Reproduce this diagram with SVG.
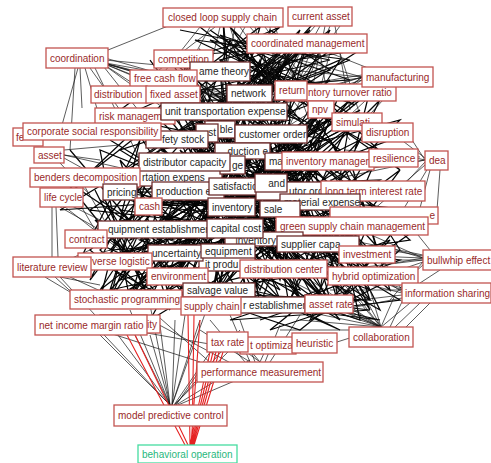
<svg xmlns="http://www.w3.org/2000/svg" width="491" height="463" viewBox="0 0 491 463">
<style>
.bg{fill:#fff}
.e{fill:none;stroke:#151515;stroke-width:0.7}
.m{fill:none;stroke:#050505;stroke-width:1.25}
.red{fill:none;stroke:#e52222;stroke-width:1.1}
.n rect{fill:#fff;stroke:#c25450;stroke-width:1.3}
.n text{font-family:"Liberation Sans",Arial,sans-serif;font-size:10px;fill:#992a2a}
.d rect{stroke:#6e2e2e}
.d text{fill:#262626}
.g rect{stroke:#45dca0}
.g text{fill:#27b77c}
.r text{text-anchor:end}
</style>
<rect class="bg" x="0" y="0" width="491" height="463"/>
<g id="connectors">
<path class="m" d="M223,17 L231,207 L210,306 L249,93 L310,243 L183,59 L283,269 L291,90 L177,276 L340,92 L175,253 L321,109 L235,228 L357,122 L150,229 L271,134 L226,248 L325,161 L219,290 L238,186 L329,304 L184,162 L373,276 L300,191 L126,299 L373,191 L112,261 L320,202 L148,206 L352,226 L185,191 L367,254 L179,139 L260,305 L220,71 L85,177 L173,94 L92,131 L163,78 L275,161 L307,43 L175,178 L320,16"/>
<path class="m" d="M307,43 L226,248 L163,78 L283,269 L128,116 L329,304 L220,71 L235,228 L183,59 L219,290 L249,93 L177,276 L291,90 L210,306 L321,109 L150,229 L357,122 L175,253 L271,134 L126,299 L325,161 L112,261 L300,191 L148,206 L373,191 L120,192 L352,226 L179,139 L367,254 L184,162 L373,276 L231,207 L340,92 L260,305 L224,111 L310,243 L173,94 L320,202 L185,191 L283,269 L238,186 L223,17"/>
<path class="m" d="M200,100 L260,150 L180,200 L300,180 L220,240 L330,220 L160,260 L280,240 L200,290 L340,270 L250,130 L150,180 L310,130 L210,160 L350,200 L240,270 L170,230 L290,110 L190,130 L320,250 L230,180 L140,240 L300,290 L260,200 L200,220 L340,150 L270,100 L160,140 L230,300 L310,170 L180,110 L250,240 L360,240 L210,190 L280,290 L150,210 L330,120 L240,150 L290,220 L190,250 L260,110"/>
<path class="m" d="M240,140 L300,175 L250,175 L310,150 L260,190 L295,140 L245,160 L305,185 L255,145 L290,195 L265,150 L320,175 L235,170 L300,160 L250,200 L330,190 L270,140 L280,205 L240,185 L315,165"/>
<path class="m" d="M100,200 L190,260 L120,280 L180,190 L110,240 L200,300 L140,190 L170,300 L95,260 L200,230 L130,300 L160,200 L100,290 L190,220 L120,210 L180,290 L140,230 L110,300 L200,250 L150,280"/>
<path class="m" d="M300,240 L400,300 L320,310 L390,240 L310,270 L380,310 L340,230 L360,320 L300,300 L400,260 L330,250 L370,300 L350,240 L310,320 L390,280"/>
<path class="m" d="M200,27 L280,90 L220,60 L300,40 L190,80 L260,27 L240,95 L290,60 L210,40 L270,80 L230,27 L300,95 L180,60 L250,40 L280,27 L200,95"/>
<path class="m" d="M150,60 L330,300 L260,40 L140,280 L350,100 L180,300 L300,30 L120,220 L380,250 L200,50 L250,310 L130,120 L370,170 L170,290 L290,50 L110,180 L340,280 L230,40 L160,240 L360,140 L210,300 L280,60 L140,160 L320,310 L190,70 L380,210 L240,290 L120,260 L330,80 L170,120 L300,280 L260,60 L150,300 L350,180 L220,100 L130,200 L370,290 L200,140 L310,40"/>
<path class="m" d="M260,80 L180,240 L330,140 L150,110 L300,260 L220,60 L360,220 L140,200 L280,300 L200,90 L340,170 L170,270 L250,50 L310,220 L160,150 L290,120 L230,280 L350,250 L190,180 L270,60 L130,240 L320,160 L210,270 L340,60 L180,130 L300,300 L240,170 L360,110 L150,260 L280,200 L200,310 L330,250 L170,80 L250,230 L120,150 L310,90"/>
<path class="m" d="M210,30 L340,120 L230,70 L360,50 L250,120 L300,35 L220,110 L330,70 L270,30 L240,130 L350,90 L200,60 L320,130 L280,45 L260,100 L345,40 L215,95 L300,120 L235,40 L355,105 L275,75 L205,125 L330,30 L290,110"/>
<path class="m" d="M290,130 L370,310 L300,200 L380,150 L320,290 L350,120 L290,250 L370,230 L310,140 L340,310 L300,170 L380,270 L330,200 L290,300 L360,170 L310,260 L350,300 L295,215 L375,190"/>
<path class="m" d="M70,150 L180,280 L90,240 L160,150 L60,210 L200,200 L100,300 L140,140 L80,260 L190,240 L120,160 L170,310 L65,180 L200,270 L110,290 L150,170 L90,210 L180,220 L130,300 L100,150 L200,190 L75,240"/>
<path class="m" d="M330,170 L410,240 L340,250 L400,170 L320,230 L390,290 L350,160 L380,260 L320,200 L410,210 L340,300 L400,250 L330,140 L370,220 L345,280 L415,230"/>
<path class="m" d="M220,300 L380,320 L250,290 L340,330 L280,300 L370,310 L230,320 L320,290 L270,330 L360,300 L240,310 L300,330 L350,290 L260,320"/>
<path class="m" d="M180,30 L330,60 L200,90 L350,80 L220,35 L300,100 L190,55 L340,45 L240,80 L310,30 L260,95 L350,60 L195,40 L290,85 L230,50 L330,95"/>
<path class="m" d="M95,190 L145,290 L100,250 L150,200 L90,280 L140,180 L110,300 L150,240 L95,220 L145,270 L105,200 L150,300 L90,250 L140,210"/>
<path class="m" d="M300,100 L400,170 L320,95 L390,140 L310,170 L380,100 L340,180 L400,120 L290,150 L370,90 L350,170 L310,110 L395,160"/>
<path class="m" d="M200,120 L300,300 L240,110 L190,280 L330,110 L260,290 L180,150 L340,290 L220,130 L280,280 L320,140 L200,270 L250,120 L350,260"/>
<path class="m" d="M110,140 L370,300 L130,290 L360,100 L160,100 L340,320 L120,190 L380,180 L150,320 L300,50 L110,250 L390,230 L170,60 L330,310 L140,170 L360,280"/>
<path class="m" d="M230,130 L180,290 L320,120 L250,300 L200,150 L360,200 L170,240 L310,280 L230,160 L330,240 L190,200 L290,310 L260,140 L150,250"/>
<path class="e" d="M100,62 L200,80 M100,62 L230,95 M100,62 L260,110 M100,62 L180,120 M100,62 L150,125 M100,62 L270,130 M100,62 L220,140 M100,62 L300,120 M100,62 L240,100 M100,62 L190,100 M105,58 L165,75 M105,60 L210,70 M108,50 L168,26 M80,68 L82,108 M85,68 L98,112 M90,68 L120,110 M78,68 L62,125 M75,68 L70,150 M95,68 L140,160"/>
<path class="e" d="M362,77 L300,60 M362,77 L290,70 M362,77 L280,100 M362,77 L260,110 M362,77 L300,130 M362,77 L320,108 M370,87 L335,118 M362,80 L250,150 M362,75 L270,90 M330,53 L368,68 M380,87 L350,115 M395,87 L360,125 M362,80 L230,120 M362,78 L210,95"/>
<path class="e" d="M425,160 L412,140 M425,160 L380,150 M425,160 L360,170 M425,160 L330,180 M425,162 L390,200 M425,165 L350,230 M428,168 L400,215 M430,170 L420,208 M440,170 L437,210 M425,158 L395,135 M420,157 L345,150"/>
<path class="e" d="M423,258 L360,230 M423,258 L380,245 M423,258 L395,263 M423,260 L340,270 M423,262 L370,280 M423,265 L400,285 M423,258 L350,255 M423,256 L330,240 M430,250 L410,225 M423,262 L390,300 M423,255 L300,230 M423,260 L320,260 M440,270 L420,283"/>
<path class="e" d="M402,293 L350,280 M402,292 L370,270 M402,290 L380,255 M402,295 L360,300 M402,298 L340,310 M420,303 L395,327 M430,303 L405,328 M410,303 L380,328 M402,290 L330,290 M402,288 L320,265 M402,290 L300,250"/>
<path class="e" d="M381,327 L300,300 M381,327 L320,290 M381,327 L340,280 M381,327 L350,270 M381,327 L360,300 M381,327 L300,320 M381,330 L280,330 M381,327 L330,305 M381,327 L310,280 M381,327 L370,290 M381,327 L395,295 M381,327 L250,300 M375,330 L337,342 M381,327 L290,290 M381,327 L270,270 M390,327 L410,285"/>
<path class="e" d="M260,362 L230,340 M260,362 L250,350 M260,362 L270,340 M255,362 L240,320 M250,362 L200,330 M265,362 L280,325 M250,362 L230,315 M270,362 L300,315 M245,362 L210,320"/>
<path class="e" d="M170,405 L100,335 M170,405 L118,335 M170,405 L135,335 M170,405 L150,335 M170,405 L160,325 M172,405 L175,320 M172,405 L185,315 M172,405 L200,320 M174,405 L215,345 M174,405 L230,350 M176,405 L250,360 M178,405 L265,368 M176,405 L200,370 M170,405 L130,310 M170,405 L150,305 M175,405 L240,330 M150,320 L240,368 M160,318 L230,380 M130,330 L215,345 M100,330 L200,362 M170,405 L90,320 M172,405 L210,300"/>
<path class="e" d="M52,267 L90,250 M60,277 L100,285 M70,277 L120,300 M55,277 L80,300 M80,260 L110,250 M85,265 L130,270 M52,207 L52,257 M56,207 L58,257 M60,207 L100,230 M65,207 L120,250 M70,205 L140,240 M60,277 L95,315 M45,277 L70,292"/>
<path class="e" d="M64,155 L100,160 M64,155 L130,170 M64,150 L120,145 M64,158 L140,200 M60,163 L90,195 M140,178 L200,170 M85,187 L110,230 M70,187 L95,230"/>
<path class="e" d="M200,27 L150,90 M210,27 L170,100 M220,27 L200,110 M230,27 L260,120 M240,27 L300,110 M250,27 L330,120 M260,27 L240,100 M270,27 L280,130 M215,27 L120,100 M235,27 L210,150 M245,27 L180,140 M255,27 L290,160 M265,27 L350,140 M275,27 L320,150 M320,26 L290,80 M325,26 L310,100 M330,26 L280,150 M315,26 L260,90 M335,26 L350,110 M340,26 L300,80 M300,53 L250,150 M310,53 L280,130 M320,53 L330,110 M290,53 L230,120 M330,53 L300,160 M280,53 L200,140 M340,53 L360,115"/>
<path class="red" d="M135,335 L188,445 M127,335 L185,445 M188,315 L190,445 M194,315 L192,445 M210,352 L190,445 M213,352 L191,445 M216,352 L192,445 M219,352 L193,445 M223,352 L194,445 M200,320 L191,445"/>
</g>
<g id="closed-loop-supply-chain" class="n"><rect x="163" y="8" width="120" height="19"/><text x="168" y="21">closed loop supply chain</text></g>
<g id="current-asset" class="n"><rect x="288" y="7" width="64" height="19"/><text x="292" y="20">current asset</text></g>
<g id="coordinated-management" class="n"><rect x="247" y="34" width="120" height="19"/><text x="251" y="47">coordinated management</text></g>
<g id="coordination" class="n"><rect x="46" y="48" width="62" height="20"/><text x="50" y="62">coordination</text></g>
<g id="competition" class="n"><rect x="154" y="50" width="59" height="18"/><text x="158" y="63">competition</text></g>
<g id="game-theory" class="n d"><rect x="190" y="62" width="60" height="19"/><text x="199" y="75">ame theory</text></g>
<g id="free-cash-flow" class="n"><rect x="130" y="70" width="67" height="17"/><text x="134" y="82">free cash flow</text></g>
<g id="inventory-turnover-ratio" class="n"><rect x="286" y="84" width="110" height="17"/><text x="308" y="96">ntory turnover ratio</text></g>
<g id="return" class="n"><rect x="275" y="81" width="32" height="19"/><text x="279" y="94">return</text></g>
<g id="network" class="n d"><rect x="227" y="85" width="45" height="17"/><text x="231" y="97">network</text></g>
<g id="distribution" class="n"><rect x="91" y="86" width="56" height="17"/><text x="94" y="98">distribution</text></g>
<g id="fixed-asset" class="n"><rect x="146" y="86" width="54" height="17"/><text x="150" y="98">fixed asset</text></g>
<g id="manufacturing" class="n"><rect x="362" y="67" width="71" height="20"/><text x="366" y="81">manufacturing</text></g>
<g id="risk-management" class="n"><rect x="95" y="108" width="80" height="16"/><text x="99" y="120">risk managem</text></g>
<g id="unit-transportation-expense" class="n d"><rect x="161" y="103" width="126" height="17"/><text x="165" y="115">unit transportation expense</text></g>
<g id="npv" class="n"><rect x="308" y="101" width="26" height="17"/><text x="312" y="113">npv</text></g>
<g id="simulation" class="n"><rect x="332" y="113" width="50" height="18"/><text x="336" y="126">simulati</text></g>
<g id="disruption" class="n"><rect x="362" y="123" width="51" height="19"/><text x="366" y="136">disruption</text></g>
<g id="ble" class="n d r"><rect x="205" y="121" width="30" height="17"/><text x="233" y="133">ble</text></g>
<g id="st" class="n d r"><rect x="196" y="124" width="22" height="18"/><text x="216" y="136">st</text></g>
<g id="safety-stock" class="n d"><rect x="146" y="131" width="62" height="17"/><text x="162" y="143">fety stock</text></g>
<g id="fe" class="n"><rect x="13" y="128" width="30" height="18"/><text x="16" y="141">fe</text></g>
<g id="corporate-social-responsibility" class="n"><rect x="23" y="123" width="138" height="17"/><text x="27" y="135">corporate social responsibility</text></g>
<g id="customer-order" class="n d"><rect x="235" y="125" width="72" height="18"/><text x="239" y="138">customer order</text></g>
<g id="asset" class="n"><rect x="34" y="147" width="30" height="16"/><text x="38" y="159">asset</text></g>
<g id="duction" class="n d r"><rect x="215" y="143" width="55" height="16"/><text x="268" y="155">duction e</text></g>
<g id="transportation-expense" class="n d"><rect x="130" y="170" width="92" height="16"/><text x="142" y="181">rtation expens</text></g>
<g id="ge" class="n d r"><rect x="220" y="156" width="25" height="18"/><text x="243" y="169">ge</text></g>
<g id="distributor-capacity" class="n d"><rect x="139" y="153" width="91" height="18"/><text x="143" y="166">distributor capacity</text></g>
<g id="ma" class="n d"><rect x="265" y="153" width="25" height="17"/><text x="269" y="165">ma</text></g>
<g id="inventory-management" class="n"><rect x="282" y="152" width="92" height="18"/><text x="286" y="165">inventory managem</text></g>
<g id="resilience" class="n"><rect x="369" y="149" width="49" height="18"/><text x="373" y="162">resilience</text></g>
<g id="dea" class="n"><rect x="425" y="151" width="23" height="19"/><text x="429" y="164">dea</text></g>
<g id="benders-decomposition" class="n"><rect x="30" y="168" width="110" height="19"/><text x="34" y="181">benders decomposition</text></g>
<g id="pricing" class="n d"><rect x="103" y="184" width="34" height="16"/><text x="107" y="196">pricing</text></g>
<g id="production-expense" class="n d"><rect x="152" y="182" width="72" height="18"/><text x="156" y="195">production e</text></g>
<g id="satisfaction" class="n d"><rect x="209" y="178" width="58" height="17"/><text x="213" y="190">satisfaction</text></g>
<g id="distributor-order" class="n d"><rect x="256" y="182" width="68" height="18"/><text x="289" y="195">utor ord</text></g>
<g id="and" class="n d r"><rect x="255" y="174" width="32" height="18"/><text x="285" y="187">and</text></g>
<g id="long-term-interest-rate" class="n"><rect x="321" y="181" width="104" height="20"/><text x="325" y="195">long term interest rate</text></g>
<g id="life-cycle" class="n"><rect x="40" y="188" width="43" height="19"/><text x="44" y="201">life cycle</text></g>
<g id="cash" class="n"><rect x="135" y="198" width="27" height="17"/><text x="139" y="210">cash</text></g>
<g id="inventory" class="n d"><rect x="208" y="198" width="47" height="18"/><text x="212" y="211">inventory</text></g>
<g id="material-expense" class="n d"><rect x="280" y="194" width="80" height="16"/><text x="284" y="206">material expense</text></g>
<g id="sale" class="n d"><rect x="260" y="201" width="40" height="16"/><text x="264" y="213">sale</text></g>
<g id="e-node" class="n r"><rect x="330" y="207" width="108" height="17"/><text x="435" y="219">e</text></g>
<g id="green-supply-chain-management" class="n"><rect x="276" y="217" width="152" height="18"/><text x="280" y="230">green supply chain management</text></g>
<g id="equipment-establishment" class="n d"><rect x="98" y="221" width="112" height="17"/><text x="108" y="233">quipment establishmen</text></g>
<g id="inventory-2" class="n d r"><rect x="225" y="232" width="78" height="14"/><text x="276" y="244">inventory</text></g>
<g id="capital-cost" class="n d"><rect x="207" y="219" width="56" height="19"/><text x="211" y="232">capital cost</text></g>
<g id="contract" class="n"><rect x="65" y="230" width="42" height="18"/><text x="69" y="243">contract</text></g>
<g id="supplier-capacity" class="n d"><rect x="277" y="236" width="82" height="16"/><text x="281" y="248">supplier capa</text></g>
<g id="investment" class="n"><rect x="339" y="246" width="56" height="17"/><text x="343" y="258">investment</text></g>
<g id="bullwhip-effect" class="n"><rect x="423" y="250" width="70" height="20"/><text x="427" y="264">bullwhip effect</text></g>
<g id="it-product" class="n d"><rect x="199" y="257" width="56" height="14"/><text x="205" y="268">it produ</text></g>
<g id="uncertainty" class="n d"><rect x="148" y="245" width="55" height="16"/><text x="152" y="257">uncertainty</text></g>
<g id="equipment" class="n d"><rect x="201" y="244" width="54" height="14"/><text x="205" y="255">equipment</text></g>
<g id="reverse-logistic" class="n"><rect x="78" y="253" width="74" height="17"/><text x="92" y="265">verse logistic</text></g>
<g id="literature-review" class="n"><rect x="13" y="257" width="78" height="20"/><text x="17" y="271">literature review</text></g>
<g id="distribution-center" class="n"><rect x="240" y="260" width="87" height="18"/><text x="244" y="273">distribution center</text></g>
<g id="hybrid-optimization" class="n"><rect x="328" y="267" width="90" height="18"/><text x="332" y="280">hybrid optimization</text></g>
<g id="environment" class="n"><rect x="147" y="268" width="61" height="17"/><text x="151" y="280">environment</text></g>
<g id="information-sharing" class="n"><rect x="402" y="283" width="89" height="20"/><text x="405" y="297">information sharing</text></g>
<g id="salvage-value" class="n d"><rect x="183" y="283" width="72" height="14"/><text x="187" y="294">salvage value</text></g>
<g id="stochastic-programming" class="n"><rect x="70" y="290" width="112" height="19"/><text x="74" y="303">stochastic programming</text></g>
<g id="supplier-establishment" class="n d"><rect x="202" y="297" width="103" height="16"/><text x="243" y="309">r establishmen</text></g>
<g id="supply-chain" class="n"><rect x="181" y="297" width="60" height="18"/><text x="184" y="310">supply chain</text></g>
<g id="asset-rate" class="n"><rect x="305" y="295" width="48" height="18"/><text x="309" y="308">asset rate</text></g>
<g id="collaboration" class="n"><rect x="349" y="327" width="64" height="20"/><text x="353" y="341">collaboration</text></g>
<g id="ity" class="n r"><rect x="100" y="315" width="60" height="18"/><text x="157" y="328">ity</text></g>
<g id="net-income-margin-ratio" class="n"><rect x="35" y="315" width="112" height="20"/><text x="39" y="329">net income margin ratio</text></g>
<g id="t-optimization" class="n"><rect x="240" y="337" width="56" height="17"/><text x="250" y="349">t optimiza</text></g>
<g id="tax-rate" class="n"><rect x="207" y="332" width="41" height="20"/><text x="211" y="346">tax rate</text></g>
<g id="heuristic" class="n"><rect x="292" y="333" width="45" height="20"/><text x="296" y="347">heuristic</text></g>
<g id="performance-measurement" class="n"><rect x="197" y="362" width="126" height="20"/><text x="201" y="376">performance measurement</text></g>
<g id="model-predictive-control" class="n"><rect x="114" y="405" width="113" height="21"/><text x="118" y="419">model predictive control</text></g>
<g id="behavioral-operation" class="n g"><rect x="138" y="445" width="99" height="18"/><text x="142" y="458">behavioral operation</text></g>
</svg>
